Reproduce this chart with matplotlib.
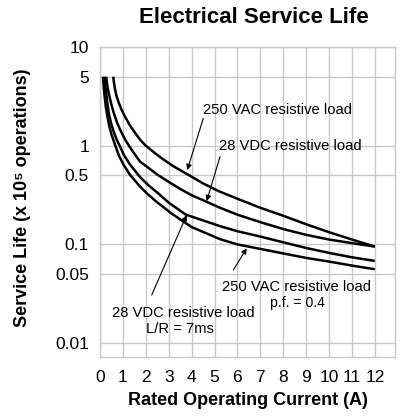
import matplotlib
matplotlib.use("Agg")
import matplotlib.pyplot as plt

plt.rcParams['font.family'] = ['Liberation Sans', 'DejaVu Sans']

# Data
x_vac_res = [0.58, 0.6, 0.65, 0.72, 0.8, 0.93, 1.1, 1.3, 1.5, 1.75, 2.0, 2.4, 2.75, 3.2, 3.9, 4.5, 5.2, 6.0, 7.0, 8.0, 9.0, 10.0, 11.0, 12.0]
y_vac_res = [5.0, 4.5, 3.8, 3.2, 2.8, 2.35, 1.95, 1.62, 1.38, 1.15, 1.0, 0.84, 0.73, 0.62, 0.5, 0.415, 0.345, 0.29, 0.235, 0.195, 0.16, 0.133, 0.112, 0.095]

x_vdc_res = [0.27, 0.3, 0.35, 0.42, 0.5, 0.6, 0.75, 0.9, 1.1, 1.3, 1.5, 1.75, 2.1, 2.5, 3.0, 3.5, 4.0, 4.66, 5.24, 6.0, 7.0, 8.0, 9.0, 10.0, 11.0, 12.0]
y_vdc_res = [5.0, 4.4, 3.7, 3.1, 2.6, 2.15, 1.7, 1.42, 1.15, 0.97, 0.83, 0.69, 0.6, 0.51, 0.43, 0.365, 0.315, 0.27, 0.235, 0.2, 0.168, 0.143, 0.125, 0.112, 0.103, 0.095]

x_vdc_ind = [0.2, 0.23, 0.27, 0.32, 0.39, 0.48, 0.6, 0.73, 0.86, 1.05, 1.3, 1.75, 2.1, 2.47, 3.0, 3.75, 4.5, 5.24, 6.0, 7.0, 8.0, 9.0, 10.0, 11.0, 12.0]
y_vdc_ind = [5.0, 4.2, 3.4, 2.7, 2.1, 1.7, 1.38, 1.15, 1.0, 0.8, 0.65, 0.48, 0.4, 0.34, 0.265, 0.2, 0.175, 0.153, 0.136, 0.12, 0.105, 0.092, 0.082, 0.074, 0.068]

x_vac_ind = [0.13, 0.16, 0.2, 0.25, 0.32, 0.4, 0.5, 0.67, 0.82, 1.0, 1.3, 1.75, 2.1, 2.47, 3.13, 4.0, 5.24, 6.0, 7.0, 8.0, 9.0, 10.0, 11.0, 12.0]
y_vac_ind = [5.0, 4.0, 3.2, 2.5, 2.0, 1.6, 1.3, 1.0, 0.8, 0.66, 0.51, 0.385, 0.32, 0.27, 0.205, 0.15, 0.113, 0.1, 0.09, 0.081, 0.073, 0.067, 0.061, 0.056]

x_ticks = list(range(0, 13))
y_ticks = [0.01, 0.05, 0.1, 0.5, 1, 5, 10]
y_tick_labels = ['0.01', '0.05', '0.1', '0.5', '1', '5', '10']

fig = plt.figure(figsize=(4.04, 4.19), dpi=100)
ax = fig.add_axes([100/404, 1-357/419, 295/404, 310/419])

for xs, ys in [(x_vac_res, y_vac_res), (x_vdc_res, y_vdc_res),
               (x_vdc_ind, y_vdc_ind), (x_vac_ind, y_vac_ind)]:
    ax.plot(xs, ys, color='black', lw=1.8, solid_capstyle='butt', solid_joinstyle='round', zorder=3)

ax.set_yscale('log')
ax.set_xlim(0, 12.88)
ax.set_ylim(0.00723, 10)
ax.set_xticks(x_ticks)
ax.set_xticklabels([str(t) for t in x_ticks])
ax.set_yticks(y_ticks)
ax.set_yticklabels(y_tick_labels)
ax.minorticks_off()
ax.tick_params(axis='both', length=0, labelsize=12.5)
ax.tick_params(axis='x', pad=9)
ax.tick_params(axis='y', pad=8)
ax.grid(True, color='#c8c8c8', lw=1.0, zorder=0)
for s in ax.spines.values():
    s.set_color('#c8c8c8')
    s.set_linewidth(1.0)

fig.text(253.5/404, 1-17.5/419, 'Electrical Service Life', ha='center', va='center',
         fontsize=16, fontweight='bold')
fig.text(23/404, 1-197.5/419, 'Service Life (x 10⁵ operations)', ha='center', va='center',
         rotation=90, fontsize=13, fontweight='bold')
fig.text(248/404, 1-400/419, 'Rated Operating Current (A)', ha='center', va='center',
         fontsize=13, fontweight='bold')

def px(xp, yp):
    return (xp/404, 1-yp/419)

ann_fs = 10.6
arrow = dict(arrowstyle='-|>', color='black', lw=0.8, mutation_scale=8, shrinkA=0, shrinkB=0)
fig.text(*px(203, 110), '250 VAC resistive load', ha='left', va='center', fontsize=ann_fs)
ax.annotate('', xy=px(187.3, 170), xycoords='figure fraction', xytext=px(203.3, 118.3),
            textcoords='figure fraction', arrowprops=arrow)
fig.text(*px(219, 146.5), '28 VDC resistive load', ha='left', va='center', fontsize=ann_fs)
ax.annotate('', xy=px(206.7, 201), xycoords='figure fraction', xytext=px(220, 156.7),
            textcoords='figure fraction', arrowprops=arrow)
fig.text(*px(183, 313.3), '28 VDC resistive load', ha='center', va='center', fontsize=ann_fs)
fig.text(*px(180, 329), 'L/R = 7ms', ha='center', va='center', fontsize=ann_fs)
ax.annotate('', xy=px(186.7, 215), xycoords='figure fraction', xytext=px(151.7, 295),
            textcoords='figure fraction', arrowprops=arrow)
fig.text(*px(296.5, 286.7), '250 VAC resistive load', ha='center', va='center', fontsize=ann_fs)
fig.text(*px(297.5, 302.5), 'p.f. = 0.4', ha='center', va='center', fontsize=ann_fs*0.95)
ax.annotate('', xy=px(246.7, 248.3), xycoords='figure fraction', xytext=px(233.3, 270),
            textcoords='figure fraction', arrowprops=arrow)

fig.savefig('out.png', dpi=100)
